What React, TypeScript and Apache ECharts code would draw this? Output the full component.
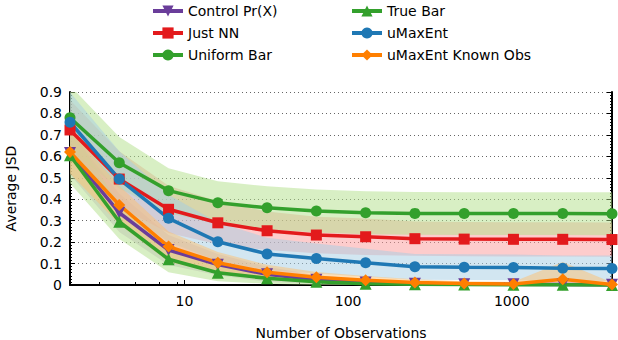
import React, { useEffect, useRef } from "react";
import * as echarts from "echarts";

const observations = [2, 4, 8, 16, 32, 64, 128, 256, 512, 1024, 2048, 4096];
const xTickLabels = [10, 100, 1000];
const xMinorTicks = [3, 5, 7, 9, 30, 50, 70, 90, 300, 500, 700, 900, 3000];

const seriesNames = ["Control Pr(X)", "Just NN", "Uniform Bar", "True Bar", "uMaxEnt", "uMaxEnt Known Obs"];

const controlPrX = [0.615, 0.337, 0.163, 0.095, 0.05, 0.025, 0.012, 0.006, 0.004, 0.003, 0.002, 0.001];
const justNN = [0.723, 0.494, 0.353, 0.29, 0.253, 0.233, 0.225, 0.216, 0.214, 0.213, 0.213, 0.212];
const uniformBar = [0.78, 0.57, 0.44, 0.384, 0.36, 0.345, 0.337, 0.334, 0.333, 0.333, 0.333, 0.332];
const trueBar = [0.605, 0.295, 0.12, 0.057, 0.031, 0.015, 0.006, 0.003, 0.002, 0.001, 0.001, 0.0];
const uMaxEnt = [0.759, 0.494, 0.311, 0.202, 0.145, 0.124, 0.104, 0.085, 0.083, 0.082, 0.078, 0.077];
const uMaxEntKnown = [0.62, 0.373, 0.179, 0.104, 0.059, 0.036, 0.022, 0.012, 0.007, 0.005, 0.027, 0.002];

const controlStd = [0.1, 0.09, 0.07, 0.05, 0.035, 0.02, 0.015, 0.01, 0.01, 0.01, 0.01, 0.01];
const justNNStd = [0.14, 0.13, 0.11, 0.1, 0.09, 0.085, 0.085, 0.08, 0.08, 0.08, 0.08, 0.08];
const uniformStd = [0.15, 0.12, 0.105, 0.1, 0.1, 0.1, 0.1, 0.1, 0.1, 0.1, 0.1, 0.1];
const trueBarStd = [0.13, 0.08, 0.06, 0.04, 0.025, 0.015, 0.01, 0.005, 0.004, 0.003, 0.003, 0.002];
const uMaxEntStd = [0.14, 0.13, 0.11, 0.09, 0.075, 0.07, 0.065, 0.06, 0.06, 0.06, 0.06, 0.06];
const knownStd = [0.1, 0.09, 0.07, 0.05, 0.035, 0.025, 0.02, 0.015, 0.01, 0.01, 0.08, 0.01];

const lineColors = ["#6a3d9a", "#e31a1c", "#33a02c", "#33a02c", "#1f78b4", "#ff7f00"];
const bandColors = ["#cab2d6", "#fb9a99", "#b2df8a", "#b2df8a", "#a6cee3", "#fdbf6f"];
const symbols = ["triangle", "rect", "circle", "triangle", "circle", "diamond"];
const symbolRotates = [180, 0, 0, 0, 0, 0];
const symbolSizes = [12, 11, 11, 12, 11, 12];

const values = [controlPrX, justNN, uniformBar, trueBar, uMaxEnt, uMaxEntKnown];
const stds = [controlStd, justNNStd, uniformStd, trueBarStd, uMaxEntStd, knownStd];

const FONT = "DejaVu Sans";
const FS = 14;

export default function App() {
  const ref = useRef<HTMLDivElement>(null);
  useEffect(() => {
    if (!ref.current) return;
    const chart = echarts.init(ref.current, null, { renderer: "svg" });

    const bandSeries = values.map((vals, i) => {
      const lo = vals.map((v, j) => Math.max(0, v - stds[i][j]));
      const hi = vals.map((v, j) => v + stds[i][j]);
      return {
        type: "custom",
        name: seriesNames[i] + " band",
        silent: true,
        z: 1,
        data: observations.map((x, j) => [x, lo[j], hi[j]]),
        encode: { x: 0, y: [1, 2] },
        renderItem: (params: any, api: any) => {
          if (params.dataIndex !== 0) return null;
          const pts: number[][] = [];
          for (let j = 0; j < observations.length; j++) pts.push(api.coord([observations[j], hi[j]]));
          for (let j = observations.length - 1; j >= 0; j--) pts.push(api.coord([observations[j], lo[j]]));
          const cs = params.coordSys;
          return {
            type: "polygon",
            shape: { points: pts },
            style: { fill: bandColors[i], opacity: 0.5 },
            clipPath: { type: "rect", shape: { x: cs.x, y: cs.y, width: cs.width, height: cs.height } },
            silent: true,
          };
        },
      };
    });

    const lineSeries = values.map((vals, i) => ({
      type: "line",
      name: seriesNames[i],
      z: 3,
      data: observations.map((x, j) => [x, vals[j]]),
      symbol: symbols[i],
      symbolRotate: symbolRotates[i],
      symbolSize: symbolSizes[i],
      showAllSymbol: true,
      clip: false,
      itemStyle: { color: lineColors[i] },
      lineStyle: { color: lineColors[i], width: 3.5 },
    }));

    const legendCommon = {
      orient: "vertical",
      itemWidth: 30,
      itemHeight: 14,
      itemGap: 8,
      lineStyle: { width: 4 },
      textStyle: { fontFamily: FONT, fontSize: FS, color: "#000" },
    };

    const yTickCommon = {
      type: "value",
      min: 0,
      max: 0.9,
      interval: 0.1,
    };

    chart.setOption({
      animation: false,
      backgroundColor: "#fff",
      legend: [
        { ...legendCommon, left: 146, top: -1, data: seriesNames.slice(0, 3) },
        { ...legendCommon, left: 345, top: -1, data: seriesNames.slice(3) },
      ],
      grid: { left: 70, right: 6, top: 92, bottom: 55, containLabel: false, outerBoundsMode: "none" },
      xAxis: [
        {
          type: "log",
          logBase: 10,
          min: 2,
          max: 4096,
          name: "Number of Observations",
          nameLocation: "middle",
          nameGap: 41,
          nameTextStyle: { fontFamily: FONT, fontSize: FS, color: "#000" },
          axisLine: { show: true, lineStyle: { color: "#000", width: 2 } },
          axisTick: { show: true, inside: true, length: 5, lineStyle: { color: "#000", width: 1 } },
          axisLabel: {
            fontFamily: FONT,
            fontSize: FS,
            color: "#000",
            margin: 9,
            formatter: (v: number) => (xTickLabels.some((t) => Math.abs(t - v) < 1e-6 * t) ? String(Math.round(v)) : ""),
          },
          splitLine: { show: false },
        },
        {
          type: "log",
          logBase: 10,
          min: 2,
          max: 4096,
          position: "bottom",
          axisLine: { show: false },
          axisTick: { show: true, inside: true, length: 3, customValues: xMinorTicks, lineStyle: { color: "#000", width: 1 } },
          axisLabel: { show: false },
          splitLine: { show: false },
        },
      ],
      yAxis: [
        {
          ...yTickCommon,
          name: "Average JSD",
          nameLocation: "middle",
          nameGap: 52,
          nameTextStyle: { fontFamily: FONT, fontSize: FS, color: "#000" },
          axisLine: { show: true, lineStyle: { color: "#000", width: 2 } },
          axisTick: { show: true, inside: true, length: 5, lineStyle: { color: "#000" } },
          minorTick: { show: true, splitNumber: 7, length: 2, lineStyle: { color: "#000" } },
          axisLabel: {
            fontFamily: FONT,
            fontSize: FS,
            color: "#000",
            margin: 8,
            formatter: (v: number) => (v === 0 ? "0" : v.toFixed(1)),
          },
          splitLine: { show: true, lineStyle: { color: "#666", type: [1, 3], width: 1 } },
        },
        {
          ...yTickCommon,
          position: "right",
          axisLine: { show: true, lineStyle: { color: "#000", width: 2 } },
          axisTick: { show: true, inside: true, length: 5, lineStyle: { color: "#000" } },
          minorTick: { show: true, splitNumber: 7, length: 2, lineStyle: { color: "#000" } },
          axisLabel: { show: false },
          splitLine: { show: false },
        },
      ],
      series: [...bandSeries, ...lineSeries],
    });
    return () => chart.dispose();
  }, []);
  return <div ref={ref} style={{ position: "fixed", left: 0, top: 0, width: 618, height: 340 }} />;
}
